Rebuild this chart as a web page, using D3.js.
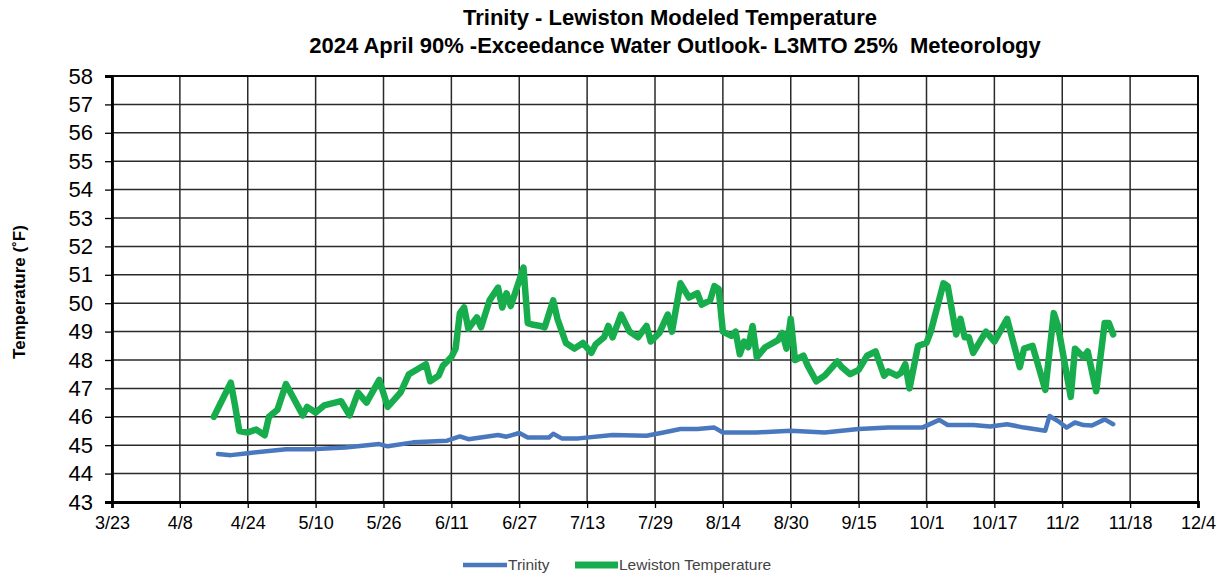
<!DOCTYPE html>
<meta charset="utf-8">
<style>
  body { margin: 0; background: #fff; }
  .grid line { stroke: #2a2a2a; stroke-width: 1.5; }
  .axis path, .axis line { stroke: #000; }
  .axis text { fill: #000; }
  .title { font: bold 22px "Liberation Sans", Arial, sans-serif; white-space: pre; }
</style>
<body>
<svg width="1222" height="578"></svg>
<script src="https://cdn.jsdelivr.net/npm/d3@7"></script>
<script>
const xTicks = ["3/23","4/8","4/24","5/10","5/26","6/11","6/27","7/13","7/29","8/14","8/30","9/15","10/1","10/17","11/2","11/18","12/4"];
const yTicks = [43,44,45,46,47,48,49,50,51,52,53,54,55,56,57,58];

const trinityDates = ["4/17","4/20","4/24","5/3","5/9","5/17","5/25","5/27","6/2","6/10","6/13","6/15","6/22","6/24","6/27","6/29","7/4","7/5","7/7","7/11","7/19","7/27","7/31","8/4","8/8","8/12","8/14","8/22","8/30","9/7","9/15","9/22","9/30","10/4","10/6","10/12","10/16","10/20","10/24","10/29","10/30","11/1","11/3","11/5","11/7","11/9","11/12","11/14"];
const trinityTemps = [44.69,44.65,44.72,44.86,44.86,44.92,45.04,44.96,45.10,45.16,45.31,45.21,45.36,45.30,45.43,45.27,45.27,45.40,45.24,45.24,45.36,45.33,45.45,45.57,45.57,45.62,45.45,45.45,45.51,45.45,45.57,45.62,45.62,45.89,45.71,45.71,45.66,45.74,45.62,45.51,46.03,45.85,45.62,45.80,45.71,45.69,45.91,45.74];

const lewistonDates = ["4/16","4/18","4/20","4/21","4/22","4/24","4/26","4/28","4/29","5/1","5/3","5/5","5/7","5/8","5/10","5/12","5/16","5/18","5/20","5/22","5/25","5/27","5/30","6/1","6/5","6/6","6/8","6/9","6/11","6/12","6/13","6/14","6/15","6/17","6/18","6/20","6/22","6/23","6/24","6/25","6/27","6/28","6/29","6/30","7/2","7/3","7/5","7/6","7/8","7/10","7/12","7/14","7/15","7/17","7/18","7/19","7/21","7/23","7/25","7/27","7/28","7/30","8/1","8/2","8/4","8/6","8/8","8/9","8/11","8/12","8/13","8/14","8/16","8/17","8/18","8/19","8/20","8/21","8/22","8/24","8/27","8/28","8/29","8/30","8/31","9/2","9/3","9/5","9/7","9/10","9/11","9/13","9/15","9/17","9/19","9/21","9/22","9/24","9/25","9/26","9/27","9/29","10/1","10/2","10/5","10/6","10/8","10/9","10/10","10/11","10/12","10/15","10/17","10/20","10/23","10/24","10/26","10/29","10/31","11/1","11/4","11/5","11/7","11/8","11/10","11/12","11/13","11/14"];
const lewistonTemps = [46.0,46.6,47.2,46.4,45.5,45.45,45.55,45.35,46.0,46.25,47.15,46.6,46.05,46.35,46.15,46.4,46.55,46.05,46.85,46.5,47.3,46.35,46.85,47.5,47.85,47.25,47.45,47.8,48.1,48.4,49.65,49.85,49.1,49.5,49.15,50.1,50.55,49.85,50.35,49.9,50.8,51.25,49.3,49.25,49.2,49.15,50.1,49.45,48.6,48.4,48.6,48.25,48.55,48.8,49.2,48.8,49.6,49.0,48.8,49.2,48.65,48.95,49.6,49.0,50.7,50.2,50.35,49.95,50.1,50.6,50.5,49.0,48.85,49.0,48.2,48.65,48.45,49.2,48.1,48.45,48.7,48.95,48.4,49.45,48.0,48.15,47.8,47.25,47.45,47.95,47.75,47.5,47.65,48.15,48.3,47.45,47.6,47.45,47.55,47.85,47.0,48.5,48.6,49.0,50.7,50.6,48.9,49.45,48.8,48.8,48.25,49.0,48.65,49.45,47.75,48.4,48.5,46.95,49.65,49.2,46.7,48.4,48.1,48.3,46.9,49.3,49.3,48.9];

const parse = s => d3.timeParse("%m/%d/%Y")(s + "/2024");

const svg = d3.select("svg");
const margin = {top: 76, right: 24, bottom: 76, left: 112};
const width = 1198 - margin.left;
const height = 502 - margin.top;

const x = d3.scaleTime()
    .domain([parse(xTicks[0]), parse(xTicks[xTicks.length - 1])])
    .range([0, width]);
const y = d3.scaleLinear().domain([43, 58]).range([height, 0]);

const g = svg.append("g").attr("transform", `translate(${margin.left},${margin.top})`);

// titles
svg.append("text").attr("class", "title").attr("x", 670).attr("y", 25)
    .attr("text-anchor", "middle").text("Trinity - Lewiston Modeled Temperature");
svg.append("text").attr("class", "title").attr("x", 675).attr("y", 53)
    .attr("text-anchor", "middle")
    .text("2024 April 90% -Exceedance Water Outlook- L3MTO 25%  Meteorology");

// grid
g.append("g").attr("class", "grid")
  .selectAll("line").data(yTicks).enter().append("line")
    .attr("x1", 0).attr("x2", width)
    .attr("y1", d => y(d)).attr("y2", d => y(d));
g.append("g").attr("class", "grid")
  .selectAll("line").data(xTicks).enter().append("line")
    .attr("x1", d => x(parse(d))).attr("x2", d => x(parse(d)))
    .attr("y1", 0).attr("y2", height);

g.append("rect").attr("width", width).attr("height", height)
    .attr("fill", "none").attr("stroke", "#000").attr("stroke-width", 1.8);

// axes
g.append("g").attr("class", "axis")
    .call(d3.axisLeft(y).tickValues(yTicks).tickSize(7).tickPadding(12))
    .call(a => a.select(".domain").attr("stroke-width", 2.8))
    .call(a => a.selectAll("line").attr("stroke-width", 1.3))
    .call(a => a.selectAll("text").style("font", "22px 'Liberation Sans', Arial, sans-serif"));

g.append("g").attr("class", "axis")
    .attr("transform", `translate(0,${height})`)
    .call(d3.axisBottom(x).tickValues(xTicks.map(parse)).tickFormat(d3.timeFormat("%-m/%-d")).tickSize(6).tickPadding(8))
    .call(a => a.select(".domain").attr("stroke-width", 2.8))
    .call(a => a.selectAll("line").attr("stroke-width", 1.3))
    .call(a => a.selectAll("text").style("font", "18px 'Liberation Sans', Arial, sans-serif"));

svg.append("text")
    .attr("transform", "translate(25,292) rotate(-90)")
    .attr("text-anchor", "middle")
    .style("font", "bold 17px 'Liberation Sans', Arial, sans-serif")
    .text("Temperature (˚F)");

// series
const line = d3.line().x(d => x(d.date)).y(d => y(d.value));
const trinity = trinityDates.map((d, i) => ({date: parse(d), value: trinityTemps[i]}));
const lewiston = lewistonDates.map((d, i) => ({date: parse(d), value: lewistonTemps[i]}));

g.append("path").datum(trinity).attr("d", line)
    .attr("fill", "none").attr("stroke", "#4a78bf").attr("stroke-width", 4.5)
    .attr("stroke-linejoin", "round").attr("stroke-linecap", "round");
g.append("path").datum(lewiston).attr("d", line)
    .attr("fill", "none").attr("stroke", "#17ad4c").attr("stroke-width", 6.5)
    .attr("stroke-linejoin", "round").attr("stroke-linecap", "round");

// legend
const legend = svg.append("g").style("font", "15.5px 'Liberation Sans', Arial, sans-serif");
legend.append("line").attr("x1", 463).attr("x2", 507).attr("y1", 565).attr("y2", 565)
    .attr("stroke", "#4a78bf").attr("stroke-width", 4.5);
legend.append("text").attr("x", 508).attr("y", 570).attr("fill", "#444").text("Trinity");
legend.append("line").attr("x1", 575).attr("x2", 618).attr("y1", 565).attr("y2", 565)
    .attr("stroke", "#17ad4c").attr("stroke-width", 7);
legend.append("text").attr("x", 619).attr("y", 570).attr("fill", "#444").text("Lewiston Temperature");
</script>
</body>
</html>
